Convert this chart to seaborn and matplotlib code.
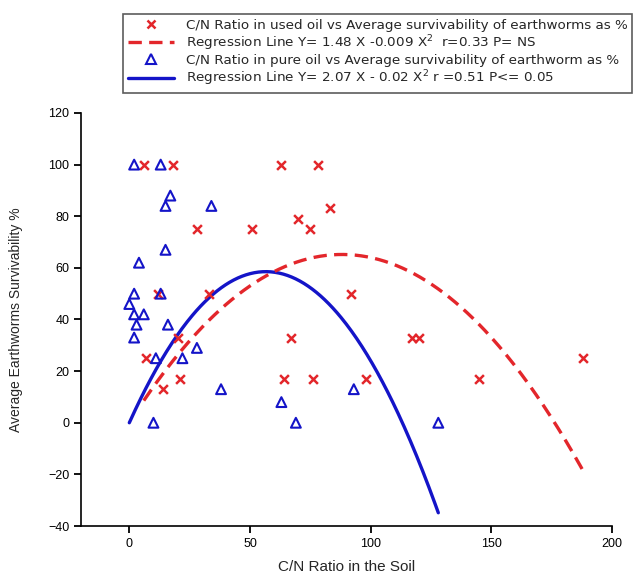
import numpy as np
import pandas as pd
import matplotlib
matplotlib.use("Agg")
import matplotlib.pyplot as plt
import seaborn as sns
from matplotlib.lines import Line2D

# C/N ratio of the soil and earthworm survivability (%) - used-oil soil
used_cn = [6, 18, 63, 78, 83, 70, 75, 28, 51, 12, 33, 92,
           20, 67, 117, 120, 188, 7, 21, 64, 76, 98, 145, 14]
used_surv = [100, 100, 100, 100, 83, 79, 75, 75, 75, 50, 50, 50,
             33, 33, 33, 33, 25, 25, 17, 17, 17, 17, 17, 13]

# C/N ratio of the soil and earthworm survivability (%) - pure-oil soil
pure_cn = [2, 13, 17, 15, 34, 15, 4, 2, 13, 0, 2, 6,
           3, 16, 2, 28, 11, 22, 38, 63, 10, 69, 93, 128]
pure_surv = [100, 100, 88, 84, 84, 67, 62, 50, 50, 46, 42, 42,
             38, 38, 33, 29, 25, 25, 13, 8, 0, 0, 13, 0]

# quadratic regressions through the origin: Y = a*X - b*X^2
used_coef = (1.48, 0.0084)
pure_coef = (2.07, 0.0183)

x_ticks = [0, 50, 100, 150, 200]
y_ticks = [-40, -20, 0, 20, 40, 60, 80, 100, 120]

labels = [
    "C/N Ratio in used oil vs Average survivability of earthworms as %",
    "Regression Line Y= 1.48 X -0.009 X$^2$  r=0.33 P= NS",
    "C/N Ratio in pure oil vs Average survivability of earthworm as %",
    "Regression Line Y= 2.07 X - 0.02 X$^2$ r =0.51 P<= 0.05",
]

RED = "#e3262b"
BLUE = "#1414c8"

sns.set_style("ticks")
plt.rcParams["font.family"] = ["Liberation Sans", "DejaVu Sans"]

used = pd.DataFrame({"cn": used_cn, "surv": used_surv})
pure = pd.DataFrame({"cn": pure_cn, "surv": pure_surv})


def fit_curve(cn, coef):
    xs = np.linspace(min(cn), max(cn), 300)
    a, b = coef
    return pd.DataFrame({"cn": xs, "surv": a * xs - b * xs ** 2})


used_fit = fit_curve(used_cn, used_coef)
pure_fit = fit_curve(pure_cn, pure_coef)

fig = plt.figure(figsize=(6.33, 5.75), dpi=100)
ax = fig.add_axes([0.128, 0.0852, 0.839, 0.7183])

sns.lineplot(data=pure_fit, x="cn", y="surv", ax=ax, color=BLUE,
             linewidth=2.4, zorder=2)
sns.lineplot(data=used_fit, x="cn", y="surv", ax=ax, color=RED,
             linewidth=2.4, dashes=(4, 2.2), zorder=2)
sns.scatterplot(data=used, x="cn", y="surv", ax=ax, marker="x", s=40,
                color=RED, linewidth=1.8, zorder=3)
sns.scatterplot(data=pure, x="cn", y="surv", ax=ax, marker="^", s=50,
                facecolor="none", edgecolor=BLUE, linewidth=1.5, zorder=3)

ax.set_xlim(-20, 200)
ax.set_ylim(-40, 120)
ax.set_xticks(x_ticks)
ax.set_yticks(y_ticks)
sns.despine(ax=ax)
ax.tick_params(axis="both", which="major", direction="out", length=5,
               width=1.3, labelsize=9, color="black", labelcolor="black",
               left=True, bottom=True)
for s in ("left", "bottom"):
    ax.spines[s].set_linewidth(1.2)
    ax.spines[s].set_color("black")

ax.set_xlabel("C/N Ratio in the Soil", fontsize=11, labelpad=7)
ax.set_ylabel("Average Earthworms Survivability %", fontsize=10, labelpad=18)

handles = [
    Line2D([], [], linestyle="none", marker="x", color=RED,
           markersize=6, markeredgewidth=1.8),
    Line2D([], [], color=RED, linewidth=2.4, dashes=(4, 2.2)),
    Line2D([], [], linestyle="none", marker="^", markerfacecolor="none",
           markeredgecolor=BLUE, markersize=6.5, markeredgewidth=1.5),
    Line2D([], [], color=BLUE, linewidth=2.4),
]
leg = ax.legend(handles, labels, loc="upper left",
                bbox_to_anchor=(123 / 633, 1 - 14 / 575),
                bbox_transform=fig.transFigure,
                prop={"family": "DejaVu Sans", "size": 9.7},
                frameon=True, fancybox=False, handlelength=3.4,
                handletextpad=0.9, labelspacing=0.1, borderpad=0.35,
                borderaxespad=0)
leg.get_frame().set_edgecolor("#333333")
leg.get_frame().set_linewidth(1.2)

fig.savefig("out.png", dpi=100)
